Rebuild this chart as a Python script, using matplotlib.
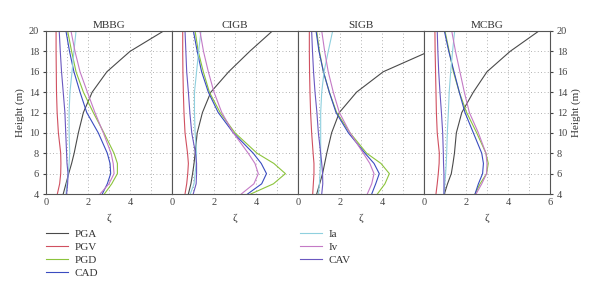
import matplotlib
matplotlib.use("Agg")
import matplotlib.pyplot as plt

plt.rcParams['font.family'] = ['Liberation Serif', 'DejaVu Serif']

# Data
heights = [4, 5, 6, 7, 8, 10, 12, 14, 16, 18, 20]
sites = ['MBBG', 'CIGB', 'SIGB', 'MCBG']
measures = ['PGA', 'PGV', 'PGD', 'CAD', 'Ia', 'Iv', 'CAV']
colors = ['#4a4a4a', '#d05060', '#8cc43c', '#3a4cc0', '#8fd0de', '#c47ac6', '#6a58c0']

mbbg = {
    'PGA': [0.82, 0.95, 1.08, 1.22, 1.34, 1.54, 1.78, 2.2, 2.9, 4.0, 5.6],
    'PGV': [0.54, 0.65, 0.7, 0.71, 0.7, 0.59, 0.53, 0.5, 0.49, 0.48, 0.48],
    'PGD': [2.78, 3.13, 3.4, 3.4, 3.24, 2.76, 2.25, 1.78, 1.43, 1.22, 1.03],
    'CAD': [2.68, 2.92, 3.08, 3.05, 2.92, 2.49, 1.94, 1.62, 1.33, 1.12, 0.95],
    'Ia':  [0.95, 1.0, 1.06, 1.1, 1.13, 1.1, 1.1, 1.14, 1.24, 1.33, 1.43],
    'Iv':  [2.57, 3.0, 3.24, 3.2, 3.1, 2.73, 2.33, 1.97, 1.62, 1.38, 1.19],
    'CAV': [0.98, 1.03, 1.05, 1.0, 0.98, 0.94, 0.9, 0.82, 0.74, 0.68, 0.63],
}
cigb = {
    'PGA': [0.78, 0.9, 0.98, 1.05, 1.1, 1.2, 1.45, 1.85, 2.7, 3.7, 4.78],
    'PGV': [0.62, 0.7, 0.75, 0.78, 0.74, 0.62, 0.57, 0.54, 0.52, 0.51, 0.51],
    'PGD': [3.75, 4.83, 5.4, 4.85, 4.05, 3.0, 2.29, 1.78, 1.49, 1.25, 1.1],
    'CAD': [3.6, 4.27, 4.5, 4.25, 3.87, 2.92, 2.2, 1.73, 1.41, 1.2, 1.02],
    'Ia':  [0.87, 1.05, 1.1, 1.15, 1.17, 1.1, 1.07, 1.07, 1.17, 1.27, 1.38],
    'Iv':  [3.3, 3.9, 4.11, 3.95, 3.63, 2.92, 2.37, 2.0, 1.73, 1.5, 1.33],
    'CAV': [1.01, 1.15, 1.17, 1.17, 1.12, 0.94, 0.85, 0.78, 0.7, 0.66, 0.62],
}
sigb = {
    'PGA': [0.89, 1.03, 1.17, 1.27, 1.37, 1.6, 1.97, 2.79, 4.06, 6.25, 9.0],
    'PGV': [0.7, 0.73, 0.76, 0.76, 0.72, 0.65, 0.6, 0.57, 0.55, 0.54, 0.54],
    'PGD': [3.78, 4.14, 4.35, 3.95, 3.27, 2.48, 1.84, 1.49, 1.21, 1.02, 0.89],
    'CAD': [3.51, 3.7, 3.87, 3.62, 3.19, 2.4, 1.81, 1.49, 1.21, 1.0, 0.86],
    'Ia':  [0.97, 1.02, 1.05, 1.07, 1.08, 1.08, 1.08, 1.13, 1.24, 1.44, 1.65],
    'Iv':  [3.3, 3.51, 3.62, 3.42, 3.11, 2.48, 1.97, 1.68, 1.44, 1.27, 1.13],
    'CAV': [1.13, 1.18, 1.17, 1.13, 1.08, 0.97, 0.9, 0.81, 0.74, 0.69, 0.65],
}
mcbg = {
    'PGA': [0.97, 1.12, 1.3, 1.38, 1.45, 1.54, 1.8, 2.35, 3.0, 4.1, 5.47],
    'PGV': [0.57, 0.63, 0.68, 0.72, 0.73, 0.63, 0.59, 0.57, 0.55, 0.53, 0.52],
    'PGD': [2.43, 2.67, 2.98, 3.06, 2.95, 2.51, 2.03, 1.68, 1.4, 1.2, 1.0],
    'CAD': [2.43, 2.59, 2.79, 2.83, 2.75, 2.35, 1.95, 1.68, 1.43, 1.18, 0.97],
    'Ia':  [0.95, 0.99, 1.03, 1.06, 1.08, 1.11, 1.16, 1.2, 1.27, 1.36, 1.46],
    'Iv':  [2.48, 2.75, 2.98, 3.0, 2.95, 2.59, 2.16, 1.92, 1.71, 1.5, 1.32],
    'CAV': [0.95, 0.95, 0.95, 0.93, 0.92, 0.89, 0.83, 0.76, 0.7, 0.66, 0.63],
}
site_data = [mbbg, cigb, sigb, mcbg]

fig = plt.figure(figsize=(6.0, 2.96), dpi=100)
left, width = 46 / 600, 126 / 600
bottom, height = 1 - 194 / 296, 163 / 296

lines = {}
for i, (name, data) in enumerate(zip(sites, site_data)):
    ax = fig.add_axes([left + i * width, bottom, width, height])
    for m, c in zip(measures, colors):
        ln, = ax.plot(data[m], heights, color=c, lw=0.8, solid_joinstyle='round')
        lines[m] = ln
    ax.set_xlim(0, 6)
    ax.set_ylim(4, 20)
    ax.set_xticks([0, 2, 4, 6] if i == 3 else [0, 2, 4])
    ax.set_xticks(range(0, 7), minor=True)
    ax.set_yticks(range(4, 21, 2))
    ax.grid(which='both', linestyle=(0, (1, 3)), color='#999999', lw=0.6)
    ax.tick_params(which='both', length=0, labelsize=7.5, colors='#444444', pad=3)
    for s in ax.spines.values():
        s.set_color('#555555')
        s.set_linewidth(0.8)
    ax.set_title(name, fontsize=8, pad=2, color='#333333')
    ax.set_xlabel('ζ', fontsize=8, color='#333333', labelpad=5)
    if i == 0:
        ax.set_ylabel('Height (m)', fontsize=8, color='#333333', labelpad=3)
        ax.tick_params(axis='y', which='major', length=2, direction='out')
    elif i == 3:
        ax.yaxis.tick_right()
        ax.yaxis.set_label_position('right')
        ax.set_ylabel('Height (m)', fontsize=8, color='#333333', labelpad=3)
        ax.tick_params(axis='y', which='major', length=2, direction='out')
    else:
        ax.set_yticklabels([])

leg_kw = dict(frameon=False, fontsize=8, handlelength=2.0, handletextpad=0.6,
              labelspacing=0.3, borderpad=0, borderaxespad=0)
l1 = fig.legend([lines[m] for m in measures[:4]], measures[:4],
                loc='upper left', bbox_to_anchor=(46 / 600, 1 - 229 / 296), **leg_kw)
l2 = fig.legend([lines[m] for m in measures[4:]], measures[4:],
                loc='upper left', bbox_to_anchor=(300 / 600, 1 - 229 / 296), **leg_kw)
for lg in (l1, l2):
    for t in lg.get_texts():
        t.set_color('#333333')

fig.savefig('out.png', dpi=100)
